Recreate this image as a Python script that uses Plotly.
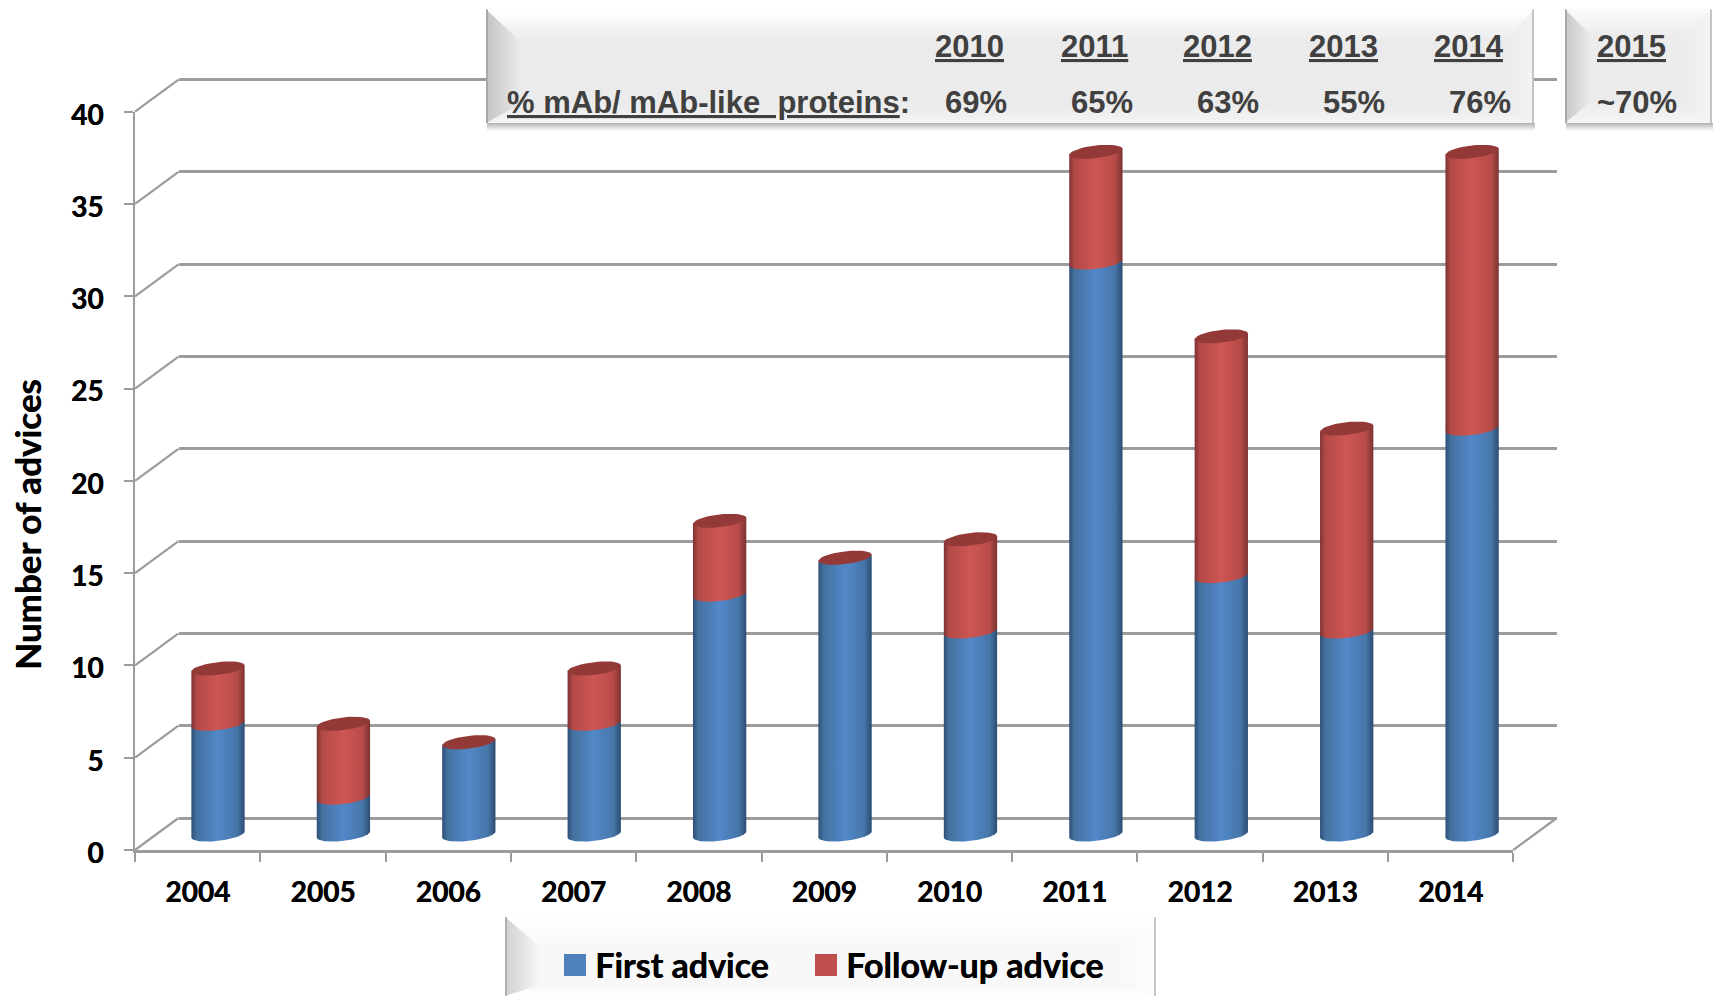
import math
import plotly.graph_objects as go

# ---- data ----
years = ["2004", "2005", "2006", "2007", "2008", "2009", "2010", "2011", "2012", "2013", "2014"]
first_advice = [6, 2, 5, 6, 13, 15, 11, 31, 14, 11, 22]
followup_advice = [3, 4, 0, 3, 4, 0, 5, 6, 13, 11, 15]
panel_years = ["2010", "2011", "2012", "2013", "2014", "2015"]
panel_shares = ["69%", "65%", "63%", "55%", "76%", "~70%"]
panel_label = "<u>%\u00a0mAb/\u00a0mAb-like\u00a0\u00a0proteins</u>:"
y_title = "Number of advices"
y_ticks = [0, 5, 10, 15, 20, 25, 30, 35, 40]

# ---- layout constants (pixels on the page) ----
W, H = 1719, 997
LINE = "#9c9c9c"
INK = "#404040"
FX0, FX1, FY0, FY1 = 135, 1513.3, 850, 111.7          # front plane
DX, DY = 43.5, 32                                     # full depth
BX0, BX1, BY0, BY1 = 155.3, 1534.8, 834.5, 96.5       # bar plane
HALF = 0.2125                                         # cylinder half width in category units
TILT = 3 / 18.45                                      # ellipse tilt in value units
MINOR = 6.4 / 18.45                                   # ellipse minor radius in value units
UNIT = (FY0 - FY1) / 40
PAD = 2                                               # value units of spare room beyond 0..40
BOLD = "0.5px 0 0 #000000"                            # thickens the bold sans a little

xd = lambda p: p / W
yd = lambda p: 1 - p / H

fig = go.Figure()


def ellipse(cx, v, t0, t1, n=28):
    ts = [t0 + (t1 - t0) * i / n for i in range(n + 1)]
    return ([cx + HALF * math.cos(t) for t in ts],
            [v + TILT * math.cos(t) + MINOR * math.sin(t) for t in ts])


def cylinder_scale(edge_l, mid_l, centre, mid_r, edge_r):
    return [[0, edge_l], [0.1, mid_l], [0.5, centre], [0.86, mid_r], [1, edge_r]]


BLUE_SCALE = cylinder_scale("#2d4f78", "#44719f", "#5288ca", "#4676a8", "#2c4c72")
RED_SCALE = cylinder_scale("#7d3331", "#b34a48", "#cf5653", "#b64b49", "#7a3230")

# ---- back wall ----
fig.add_trace(go.Scatter(x=[0], y=[None], xaxis="x", yaxis="y", showlegend=False, hoverinfo="skip"))
# ---- front axes ----
fig.add_trace(go.Scatter(x=years, y=[None] * len(years), xaxis="x2", yaxis="y2",
                         showlegend=False, hoverinfo="skip"))

# ---- bars ----
idx = list(range(len(years)))
fig.add_trace(go.Bar(x=idx, y=first_advice, name="First advice", width=0.385,
                     marker=dict(color="#4f81bd", line=dict(width=0)),
                     xaxis="x3", yaxis="y3", offsetgroup="a", legend="legend"))
fig.add_trace(go.Bar(x=idx, y=followup_advice, name="Follow-up advice", width=0.385,
                     marker=dict(color="#c0504d", line=dict(width=0)),
                     xaxis="x3", yaxis="y3", offsetgroup="a", legend="legend2"))


def segment(i, v0, v1, scale):
    lx, ly = ellipse(i, v0, math.pi, 2 * math.pi)      # lower half, left to right
    ux, uy = ellipse(i, v1, 0, math.pi, 2)             # chord back, right to left
    ux, uy = [ux[0], ux[-1]], [uy[0], uy[-1]]
    fig.add_trace(go.Scatter(
        x=lx + ux + [lx[0]], y=ly + uy + [ly[0]], mode="lines", line=dict(width=0),
        fill="toself", showlegend=False, hoverinfo="skip",
        fillgradient=dict(type="horizontal", colorscale=scale, start=i - HALF, stop=i + HALF),
        xaxis="x3", yaxis="y3"))


for i in idx:
    a, b = first_advice[i], followup_advice[i]
    segment(i, 0, a, BLUE_SCALE)
    if b:
        segment(i, a, a + b, RED_SCALE)
    cx, cy = ellipse(i, a + b, 0, 2 * math.pi, 48)
    fig.add_trace(go.Scatter(x=cx, y=cy, mode="lines", line=dict(width=0), fill="toself",
                             fillcolor="#933a39", showlegend=False,
                             hoverinfo="skip", xaxis="x3", yaxis="y3"))


# ---- bevelled panels, on a page-sized hidden axis pair ----
def poly(xs, ys, grad=None, color=None):
    kw = dict(fillcolor=color) if color else dict(fillgradient=grad)
    fig.add_trace(go.Scatter(x=xs + xs[:1], y=ys + ys[:1], mode="lines", line=dict(width=0),
                             fill="toself", showlegend=False, hoverinfo="skip",
                             xaxis="x4", yaxis="y4", **kw))


def vg(c0, c1, a, b):
    return dict(type="vertical", colorscale=[[0, c0], [1, c1]], start=a, stop=b)


def hg(c0, c1, a, b):
    return dict(type="horizontal", colorscale=[[0, c0], [1, c1]], start=a, stop=b)


def panel(L, T, R, B, il, it, ir, ib, centre, top, left, right, bottom, edge_l, edge_r, shadow=True):
    if shadow:
        poly([L + 1, R + 1, R + 1, L + 1], [B, B, B + 8, B + 8],
             grad=vg("rgba(70,70,70,0.42)", "rgba(70,70,70,0)", B, B + 8))
    poly([L, R, R, L], [T, T, B, B], color=centre)
    poly([L, R, ir, il], [T, T, it, it], grad=vg(top, centre, T, it))
    poly([L, il, il, L], [T, it, ib, B], grad=hg(left, centre, L, il))
    poly([R, ir, ir, R], [T, it, ib, B], grad=hg(centre, right, ir, R))
    poly([L, il, ir, R], [B, ib, ib, B], grad=vg(centre, bottom, ib, B))
    poly([L, L + 2, L + 2, L], [T, T, B, B], color=edge_l)
    poly([R - 2, R, R, R - 2], [T, T, B, B], color=edge_r)


panel(486, 9.5, 1534, 123, 521, 42, 1505, 104, "#ebebeb", "#ffffff", "#c4c4c4", "#f4f4f4", "#f3f3f3", "#a8a8a8", "#c4c4c4")
panel(1565, 9.5, 1712, 123, 1592, 36, 1681, 101, "#ececec", "#fbfbfb", "#c8c8c8", "#f4f4f4", "#f4f4f4", "#a8a8a8", "#c4c4c4")
panel(505, 917, 1156, 996, 540, 947, 1122, 985, "#f8f8f8", "#ffffff", "#d0d0d0", "#fdfdfd", "#ffffff", "#b0b0b0", "#c8c8c8", shadow=False)

# ---- shapes: depth lines and large legend swatches ----
shapes = []
for v in y_ticks:
    y = FY0 - v * UNIT
    shapes.append(dict(type="line", xref="paper", yref="paper", layer="below",
                       x0=xd(FX0), y0=yd(y), x1=xd(FX0 + DX), y1=yd(y - DY),
                       line=dict(color=LINE, width=2.2)))
shapes.append(dict(type="line", xref="paper", yref="paper", layer="below",
                   x0=xd(FX1), y0=yd(FY0), x1=xd(FX1 + DX), y1=yd(FY0 - DY),
                   line=dict(color=LINE, width=2.2)))
for x0, col in ((564, "#4f81bd"), (815, "#c0504d")):
    shapes.append(dict(type="rect", xref="paper", yref="paper", layer="above",
                       x0=xd(x0), x1=xd(x0 + 22), y0=yd(954), y1=yd(976),
                       fillcolor=col, line=dict(width=0)))

# ---- text ----
annotations = []
PANEL_FONT = dict(family="Liberation Sans", size=31, color=INK, weight="bold")
year_x = [969.6, 1094.5, 1217.8, 1343, 1468.8, 1631]
share_x = [976, 1102, 1227.7, 1353.7, 1479.7, 1637]
for t, x in zip(panel_years, year_x):
    annotations.append(dict(text=f"<u>{t}</u>", x=xd(x), y=yd(46), xref="paper", yref="paper",
                            showarrow=False, xanchor="center", yanchor="middle", font=PANEL_FONT))
for t, x in zip(panel_shares, share_x):
    annotations.append(dict(text=t, x=xd(x), y=yd(102), xref="paper", yref="paper",
                            showarrow=False, xanchor="center", yanchor="middle", font=PANEL_FONT))
annotations.append(dict(text=panel_label, x=xd(505), y=yd(102), xref="paper", yref="paper",
                        showarrow=False, xanchor="left", yanchor="middle", font=PANEL_FONT))
annotations.append(dict(text=y_title, x=xd(27), y=yd(525), xref="paper", yref="paper",
                        showarrow=False, textangle=-90, xanchor="center", yanchor="middle",
                        font=dict(family="Lato", size=35, color="#000000", weight="bold", shadow=BOLD)))

TICK_FONT = dict(family="Lato", size=28, color="#000000", weight="bold", shadow=BOLD)
LEGEND_FONT = dict(family="Lato", size=34, color="#000000", weight="bold", shadow=BOLD)
hidden = dict(visible=False, fixedrange=True)


def legend_at(px):
    return dict(x=xd(px), y=yd(965), xanchor="left", yanchor="middle", bgcolor="rgba(0,0,0,0)",
                borderwidth=0, font=LEGEND_FONT, itemclick=False, itemdoubleclick=False)


fig.update_layout(
    width=W, height=H, autosize=False, margin=dict(l=0, r=0, t=0, b=0, autoexpand=False),
    paper_bgcolor="#ffffff", plot_bgcolor="rgba(0,0,0,0)",
    barmode="stack", shapes=shapes, annotations=annotations,
    hovermode=False,
    showlegend=True,
    legend=legend_at(555),
    legend2=legend_at(806),
    # back wall (range padded so the 40 gridline is not dropped at the edge)
    xaxis=dict(domain=[xd(FX0 + DX), xd(FX1 + DX)], range=[-0.5, 10.5], anchor="y", visible=False),
    yaxis=dict(domain=[yd(FY0 - DY + PAD * UNIT), yd(FY1 - DY - PAD * UNIT)], range=[-PAD, 40 + PAD],
               anchor="x", tickvals=y_ticks,
               showgrid=True, gridcolor=LINE, gridwidth=2.5, showline=False, ticks="",
               showticklabels=False, zeroline=False),
    # front axes
    xaxis2=dict(domain=[xd(FX0), xd(FX1)], type="category", categoryorder="array", categoryarray=years,
                range=[-0.5, 10.5], anchor="y2", showgrid=False, zeroline=False, showline=True,
                linecolor=LINE, linewidth=2.5, ticks="outside", tickson="boundaries", ticklen=9,
                tickwidth=1.6, tickcolor=LINE, tickfont=TICK_FONT, ticklabelstandoff=16),
    yaxis2=dict(domain=[yd(FY0), yd(FY1)], range=[0, 40], anchor="x2", tickvals=y_ticks,
                showgrid=False, zeroline=False, showline=True, linecolor=LINE, linewidth=2,
                ticks="outside", ticklen=9, tickwidth=1.6, tickcolor=LINE, tickfont=TICK_FONT,
                ticklabelstandoff=15, ticklabelshift=3),
    # bar plane (padded below zero so the round cylinder bases are not clipped)
    xaxis3=dict(domain=[xd(BX0), xd(BX1)], range=[-0.5, 10.5], anchor="y3", **hidden),
    yaxis3=dict(domain=[yd(BY0 + PAD * 18.45), yd(BY1)], range=[-PAD, 40], anchor="x3", **hidden),
    # page-sized canvas
    xaxis4=dict(domain=[0, 1], range=[0, W], anchor="y4", **hidden),
    yaxis4=dict(domain=[0, 1], range=[H, 0], anchor="x4", **hidden),
)

fig.write_html("out.html", config=dict(displayModeBar=False),
               post_script="document.body.style.margin='0';document.documentElement.style.overflow='hidden';")
